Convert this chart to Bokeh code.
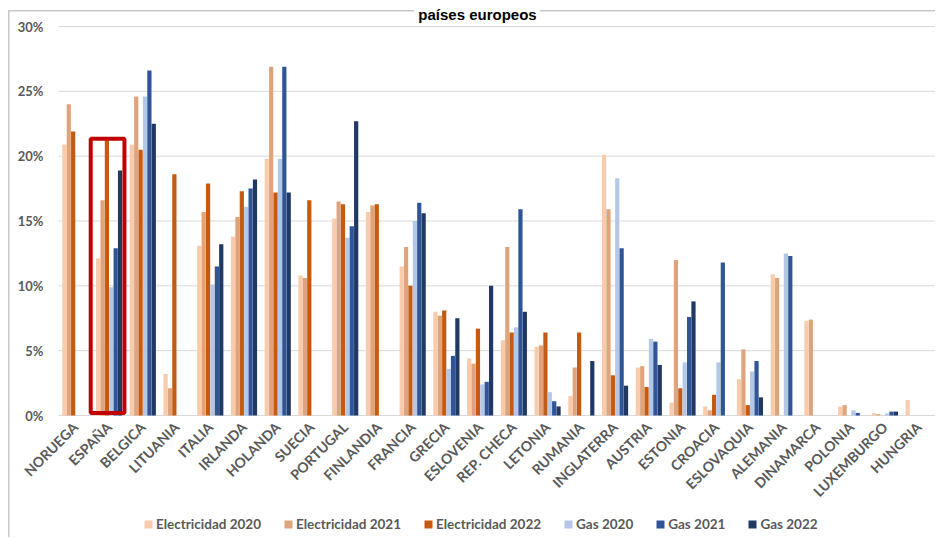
import math
from bokeh.plotting import figure
from bokeh.models import (Range1d, Legend, LegendItem, ColumnDataSource, Label,
                          FixedTicker)
from bokeh.transform import dodge
from bokeh.embed import file_html
from bokeh.resources import INLINE

countries = ["NORUEGA", "ESPAÑA", "BELGICA", "LITUANIA", "ITALIA", "IRLANDA", "HOLANDA",
             "SUECIA", "PORTUGAL", "FINLANDIA", "FRANCIA", "GRECIA", "ESLOVENIA",
             "REP. CHECA", "LETONIA", "RUMANIA", "INGLATERRA", "AUSTRIA", "ESTONIA",
             "CROACIA", "ESLOVAQUIA", "ALEMANIA", "DINAMARCA", "POLONIA", "LUXEMBURGO",
             "HUNGRIA"]

elec_2020 = [20.9, 12.1, 20.9, 3.2, 13.1, 13.8, 19.8, 10.8, 15.2, 15.7, 11.5, 8.0, 4.4,
             5.8, 5.3, 1.5, 20.1, 3.7, 1.0, 0.7, 2.8, 10.9, 7.3, 0.7, 0.2, 1.2]
elec_2021 = [24.0, 16.6, 24.6, 2.1, 15.7, 15.3, 26.9, 10.6, 16.5, 16.2, 13.0, 7.7, 4.0,
             13.0, 5.4, 3.7, 15.9, 3.8, 12.0, 0.4, 5.1, 10.6, 7.4, 0.8, 0.1, 0.0]
elec_2022 = [21.9, 21.2, 20.5, 18.6, 17.9, 17.3, 17.2, 16.6, 16.3, 16.3, 10.0, 8.1, 6.7,
             6.4, 6.4, 6.4, 3.1, 2.2, 2.1, 1.6, 0.8, 0.0, 0.0, 0.0, 0.0, 0.0]
gas_2020 = [0.0, 9.9, 24.6, 0.0, 10.1, 16.1, 19.8, 0.0, 13.7, 0.0, 15.0, 3.6, 2.4,
            6.8, 1.8, 0.0, 18.3, 5.9, 4.1, 4.1, 3.4, 12.5, 0.0, 0.4, 0.15, 0.0]
gas_2021 = [0.0, 12.9, 26.6, 0.0, 11.5, 17.5, 26.9, 0.0, 14.6, 0.0, 16.4, 4.6, 2.6,
            15.9, 1.1, 0.0, 12.9, 5.7, 7.6, 11.8, 4.2, 12.3, 0.0, 0.2, 0.3, 0.0]
gas_2022 = [0.0, 18.9, 22.5, 0.0, 13.2, 18.2, 17.2, 0.0, 22.7, 0.0, 15.6, 7.5, 10.0,
            8.0, 0.7, 4.2, 2.3, 3.9, 8.8, 0.0, 1.4, 0.0, 0.0, 0.0, 0.3, 0.0]

series_keys = ["e2020", "e2021", "e2022", "g2020", "g2021", "g2022"]
series_labels = ["Electricidad 2020", "Electricidad 2021", "Electricidad 2022",
                 "Gas 2020", "Gas 2021", "Gas 2022"]
series_colors = ["#F8CBAD", "#E0A47C", "#C55A11", "#B4C7E7", "#2F5597", "#203864"]

y_ticks = [0, 5, 10, 15, 20, 25, 30]
title_text = "países europeos"
highlight = "ESPAÑA"
highlight_top = 21.35

# layout in pixels: canvas size, plot-area edges
H, W = 537, 935
left_px, y_top_px, y_zero_px = 58, 26, 415
n = len(countries)
ppu_y = (y_zero_px - y_top_px) / 30.0
y_start = -(H - y_zero_px) / ppu_y
y_end = 30 + y_top_px / ppu_y
ppu_x = (W - left_px) / n
x_start = -0.5 - left_px / ppu_x
x_end = n - 0.5

idx = list(range(n))
src = ColumnDataSource(dict(xi=idx, country=countries, e2020=elec_2020,
                            e2021=elec_2021, e2022=elec_2022, g2020=gas_2020,
                            g2021=gas_2021, g2022=gas_2022))

p = figure(x_range=Range1d(x_start, x_end), y_range=Range1d(y_start, y_end),
           width=W, height=H, output_backend="svg", toolbar_location=None,
           min_border_left=0, min_border_right=0, min_border_top=0,
           min_border_bottom=0)
line = "linear-gradient(#C8C8C8,#C8C8C8)"
p.styles = {"background": (f"{line} 8px 10px / 1.5px 100% no-repeat, "
                           f"{line} 8px 10px / 406px 1.5px no-repeat, "
                           f"{line} 540px 10px / 400px 1.5px no-repeat, white")}
p.border_fill_color = None
p.background_fill_color = None
p.outline_line_color = None
p.xgrid.grid_line_color = None
p.ygrid.grid_line_color = None

# horizontal gridlines, only across the plot area
p.segment(x0=[-0.5] * len(y_ticks), x1=[x_end + 0.5] * len(y_ticks), y0=y_ticks,
          y1=y_ticks, line_color="#D9D9D9", line_width=1)

bar_w = 0.125
pitch = 0.13
items = []
for i, (k, lab, col) in enumerate(zip(series_keys, series_labels, series_colors)):
    off = (i - 2.5) * pitch
    r = p.vbar(x=dodge("xi", off), top=k, width=bar_w, source=src,
               fill_color=col, line_color=None)
    items.append(LegendItem(label=lab, renderers=[r]))

# highlight box around Spain
hx = countries.index(highlight)
p.rect(x=[hx - 0.045], y=[(highlight_top + 0.2) / 2], width=1.0,
       height=highlight_top - 0.2, fill_alpha=0, line_color="#C00000", line_width=4)

font = "Lato"
p.yaxis.fixed_location = -0.5
p.yaxis.ticker = FixedTicker(ticks=y_ticks)
p.yaxis.major_label_overrides = {t: f"{t}%" for t in y_ticks}
p.yaxis.axis_line_color = None
p.yaxis.major_tick_line_color = None
p.yaxis.major_tick_out = 0
p.yaxis.minor_tick_line_color = None
p.yaxis.major_label_standoff = 15
p.yaxis.major_label_text_font = font
p.yaxis.major_label_text_font_style = "bold"
p.yaxis.major_label_text_font_size = "13px"
p.yaxis.major_label_text_color = "#595959"

p.xaxis.fixed_location = 0
p.xaxis.ticker = FixedTicker(ticks=idx)
p.xaxis.major_label_overrides = {i: c for i, c in zip(idx, countries)}
p.xaxis.axis_line_color = None
p.xaxis.major_tick_line_color = None
p.xaxis.minor_tick_line_color = None
p.xaxis.major_tick_out = 0
p.xaxis.major_label_orientation = math.pi / 4
p.xaxis.major_label_standoff = 9
p.xaxis.major_label_text_font = font
p.xaxis.major_label_text_font_style = "bold"
p.xaxis.major_label_text_font_size = "14px"
p.xaxis.major_label_text_color = "#595959"

legend = Legend(items=items, orientation="horizontal", location=(143, 5),
                glyph_width=10, glyph_height=10, label_standoff=3, spacing=22,
                padding=0, margin=0, border_line_color=None, background_fill_alpha=0,
                label_text_font=font, label_text_font_style="bold",
                label_text_font_size="13.5px", label_text_color="#595959",
                label_height=14)
p.add_layout(legend)

p.add_layout(Label(x=477, y=H - 14, x_units="screen", y_units="screen",
                   text=title_text, text_align="center", text_baseline="alphabetic",
                   text_font="Liberation Sans", text_font_style="bold",
                   text_font_size="15px", text_color="black"))

open("out.html", "w").write(file_html(p, INLINE))
